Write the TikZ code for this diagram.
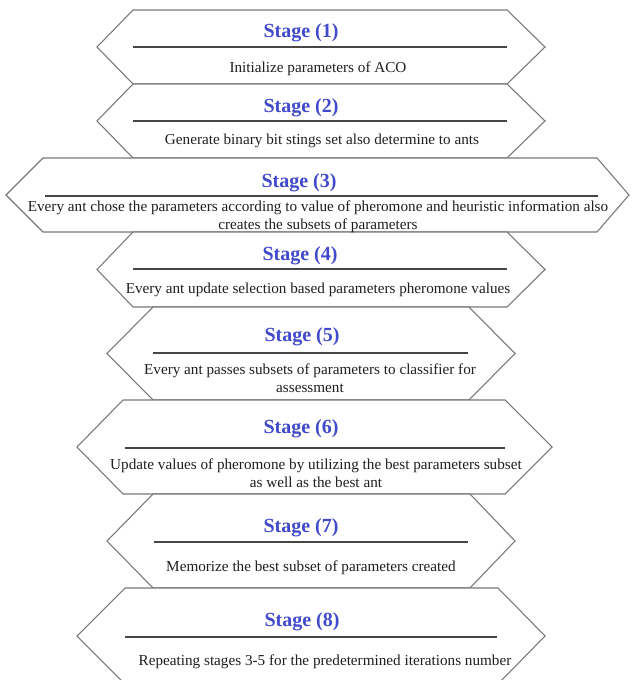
\documentclass[tikz,border=0pt]{standalone}
\usepackage{fontspec}
\setmainfont{Liberation Serif}
\definecolor{titleblue}{RGB}{66,74,204}
\definecolor{hexgray}{RGB}{120,120,120}
\definecolor{rulegray}{RGB}{70,70,70}
\tikzset{
  hexline/.style={draw=hexgray, line width=0.8pt, fill=white, line join=miter},
  rulestyle/.style={draw=rulegray, line width=1pt},
  stagetitle/.style={font=\fontsize{15}{18}\selectfont\bfseries, text=titleblue, inner sep=0pt},
  stagebody/.style={font=\fontsize{11.4}{13.8}\selectfont, text=black!88, align=center, inner sep=0pt},
}
% #1 left vertex x, #2 top-left x, #3 top-right x, #4 right vertex x, #5 top y, #6 bottom y
\newcommand\hexpoly[6]{%
  \filldraw[hexline] (#1,{(#5+#6)/2}) -- (#2,#5) -- (#3,#5) -- (#4,{(#5+#6)/2}) -- (#3,#6) -- (#2,#6) -- cycle;}
\begin{document}
\begin{tikzpicture}[x=0.75pt,y=-0.75pt]
\useasboundingbox (0,0) rectangle (631,680);
\clip (0,0) rectangle (631,680);
\fill[white] (0,0) rectangle (631,680);

% hexagons
\hexpoly{97}{133}{507}{545}{10}{84}
\hexpoly{97}{133}{507}{545}{84}{158}
\hexpoly{6}{43}{597}{629}{158}{232}
\hexpoly{97}{133}{507}{545}{232}{307}
\hexpoly{107}{153}{469}{515}{307}{400}
\hexpoly{77}{123}{505}{552}{400}{494}
\hexpoly{107}{153}{470}{515}{494}{588}
\hexpoly{77}{125}{498}{545}{588}{684}

% rules
\draw[rulestyle] (133,47) -- (507,47);
\draw[rulestyle] (133,121) -- (507,121);
\draw[rulestyle] (45,196) -- (598,196);
\draw[rulestyle] (133,269) -- (507,269);
\draw[rulestyle] (153,353) -- (468,353);
\draw[rulestyle] (125,448) -- (505,448);
\draw[rulestyle] (154,542) -- (468,542);
\draw[rulestyle] (125,637) -- (497,637);

% titles
\node[stagetitle] (t1) at (301,33) {Stage (1)};
\node[stagetitle] (t2) at (301,108) {Stage (2)};
\node[stagetitle] (t3) at (299,183) {Stage (3)};
\node[stagetitle] (t4) at (300,256) {Stage (4)};
\node[stagetitle] (t5) at (302,337) {Stage (5)};
\node[stagetitle] (t6) at (301,429) {Stage (6)};
\node[stagetitle] (t7) at (301,528) {Stage (7)};
\node[stagetitle] (t8) at (302,622) {Stage (8)};

% bodies
\node[stagebody] (b1) at (318,69) {Initialize parameters of ACO};
\node[stagebody] (b2) at (322,141) {Generate binary bit stings set also determine to ants};
\node[stagebody] (b3) at (318,217) {Every ant chose the parameters according to value of pheromone and heuristic information also\\creates the subsets of parameters};
\node[stagebody] (b4) at (318,290) {Every ant update selection based parameters pheromone values};
\node[stagebody] (b5) at (310,378) {Every ant passes subsets of parameters to classifier for\\assessment};
\node[stagebody] (b6) at (316,473) {Update values of pheromone by utilizing the best parameters subset\\as well as the best ant};
\node[stagebody] (b7) at (311,568) {Memorize the best subset of parameters created};
\node[stagebody] (b8) at (325,662) {Repeating stages 3-5 for the predetermined iterations number};
\end{tikzpicture}
\end{document}
